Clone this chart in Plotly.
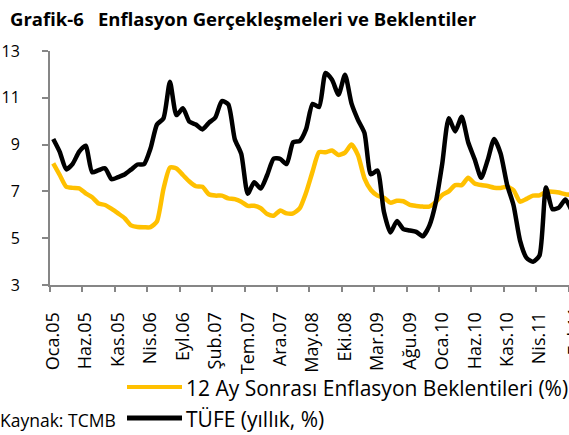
import plotly.graph_objects as go

# --- data ---------------------------------------------------------------
TICK_POS = [0, 5, 10, 15, 20, 25, 30, 35, 40, 45, 50, 55, 60, 65, 70, 75]
TICK_LABELS = [
    "Oca.05", "Haz.05", "Kas.05", "Nis.06", "Eyl.06", "Şub.07", "Tem.07", "Ara.07",
    "May.08", "Eki.08", "Mar.09", "Ağu.09", "Oca.10", "Haz.10", "Kas.10", "Nis.11",
]

# 12 Ay Sonrası Enflasyon Beklentileri (%) – monthly from Oca.05
beklenti = [
    8.20, 7.70, 7.20, 7.15, 7.13, 6.92, 6.75, 6.48, 6.42, 6.25, 6.06, 5.86,
    5.55, 5.48, 5.47, 5.47, 5.72, 7.10, 8.02, 7.98, 7.70, 7.42, 7.22, 7.20,
    6.88, 6.82, 6.82, 6.70, 6.67, 6.56, 6.38, 6.39, 6.28, 6.03, 5.96, 6.18,
    6.06, 6.06, 6.27, 6.95, 7.85, 8.68, 8.67, 8.75, 8.56, 8.66, 9.00, 8.55,
    7.56, 7.06, 6.82, 6.73, 6.52, 6.60, 6.58, 6.42, 6.38, 6.35, 6.35, 6.55,
    6.85, 7.00, 7.27, 7.27, 7.58, 7.34, 7.27, 7.23, 7.16, 7.15, 7.20, 7.05,
    6.56, 6.68, 6.82, 6.83, 6.98, 6.99, 6.95, 6.88, 6.85,
]

# TÜFE (yıllık, %)
tufe = [
    9.24, 8.69, 7.94, 8.18, 8.70, 8.95, 7.82, 7.91, 7.99, 7.52, 7.61, 7.72,
    7.93, 8.15, 8.16, 8.83, 9.86, 10.12, 11.69, 10.26, 10.55, 9.98, 9.86, 9.65,
    9.93, 10.16, 10.86, 10.72, 9.23, 8.60, 6.90, 7.39, 7.12, 7.70, 8.40, 8.39,
    8.17, 9.10, 9.15, 9.66, 10.74, 10.61, 12.06, 11.77, 11.13, 11.99, 10.76, 10.06,
    9.50, 7.73, 7.89, 6.13, 5.24, 5.73, 5.39, 5.33, 5.27, 5.08, 5.53, 6.53,
    8.19, 10.13, 9.56, 10.19, 9.10, 8.37, 7.58, 8.33, 9.24, 8.62, 7.29, 6.40,
    4.90, 4.16, 3.99, 4.26, 7.17, 6.24, 6.31, 6.65, 6.15,
]

YELLOW = "#FFC000"
AXIS_GREY = "#868686"
FONT = "Open Sans"

W, H = 569, 435
L, R, T, B = 50, 0, 51, 150


def px(x):
    return (x - L) / (W - L - R)


def py(y):
    return (H - B - y) / (H - T - B)


fig = go.Figure()
fig.add_trace(go.Scatter(
    x=list(range(len(beklenti))), y=beklenti, mode="lines",
    line=dict(color=YELLOW, width=4.5, shape="spline", smoothing=0.6),
))
fig.add_trace(go.Scatter(
    x=list(range(len(tufe))), y=tufe, mode="lines",
    line=dict(color="black", width=4.5, shape="spline", smoothing=0.6),
))

fig.update_layout(
    width=W, height=H,
    margin=dict(l=L, r=R, t=T, b=B),
    paper_bgcolor="white", plot_bgcolor="white",
    showlegend=False,
    font=dict(family=FONT, color="black", size=16),
)
fig.update_xaxes(
    range=[-0.5, 79.55], showgrid=False, zeroline=False,
    showline=True, linecolor=AXIS_GREY, linewidth=2,
    tickmode="array", tickvals=TICK_POS, ticktext=TICK_LABELS,
    tickangle=-90, ticks="", ticklabelstandoff=18,
    tickfont=dict(size=18, family=FONT),
    minor=dict(tickvals=[v - 0.5 for v in TICK_POS] + [79.5],
               ticks="outside", ticklen=5, tickcolor=AXIS_GREY, tickwidth=1.5),
)
fig.update_yaxes(
    range=[3, 13], dtick=2, tick0=3, showgrid=False, zeroline=False,
    showline=True, linecolor=AXIS_GREY, linewidth=2,
    ticks="outside", ticklen=6, tickcolor=AXIS_GREY, tickwidth=1.5,
    ticklabelstandoff=19, tickfont=dict(size=16, family=FONT),
)

# title
fig.add_annotation(text="<b>Grafik-6</b>", xref="paper", yref="paper",
                   x=px(8), y=py(18), xanchor="left", yanchor="middle",
                   showarrow=False, font=dict(size=18.5, family=FONT))
fig.add_annotation(text="<b>Enflasyon Gerçekleşmeleri ve Beklentiler</b>",
                   xref="paper", yref="paper", x=px(96), y=py(18),
                   xanchor="left", yanchor="middle", showarrow=False,
                   font=dict(size=18.5, family=FONT))

# partially visible last tick label
fig.add_annotation(text="Eyl.11", xref="paper", yref="paper", x=px(573),
                   y=py(305), xanchor="center", yanchor="top", textangle=-90,
                   showarrow=False, font=dict(size=18, family=FONT))

# legend drawn by hand (longer line samples than plotly's legend)
for yy, col, lw, label in [(387, YELLOW, 4, "12 Ay Sonrası Enflasyon Beklentileri (%)"),
                           (418, "black", 5, "TÜFE (yıllık, %)")]:
    fig.add_shape(type="line", xref="paper", yref="paper",
                  x0=px(127), x1=px(182), y0=py(yy), y1=py(yy),
                  line=dict(color=col, width=lw))
    fig.add_annotation(text=label, xref="paper", yref="paper",
                       x=px(184), y=py(yy + 1), xanchor="left", yanchor="middle",
                       showarrow=False, font=dict(size=21, family=FONT))

fig.add_annotation(text="Kaynak: TCMB", xref="paper", yref="paper",
                   x=px(118), y=py(420), xanchor="right", yanchor="middle",
                   showarrow=False, font=dict(size=17.5, family=FONT))

fig.write_html("out.html", config={"displayModeBar": False},
               post_script="document.body.style.margin='0';")
